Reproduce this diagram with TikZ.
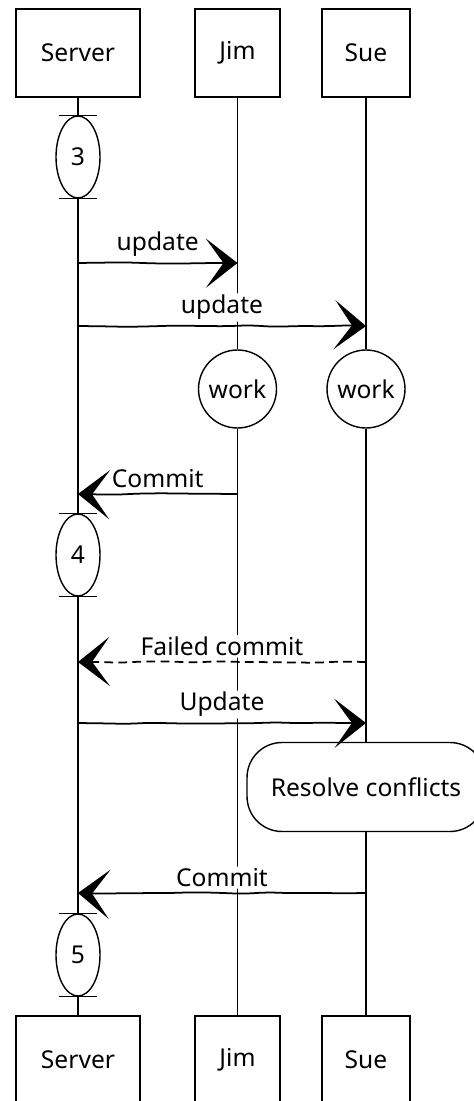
\documentclass[tikz,border=0pt]{standalone}
\usepackage{fontspec}
\setmainfont{Noto Sans}
\usetikzlibrary{shapes.geometric, arrows.meta, decorations.pathmorphing}

\begin{document}
\begin{tikzpicture}[x=0.02cm, y=-0.02cm,
    font=\fontsize{14}{16}\selectfont,
    sketch/.style={decorate, decoration={random steps, segment length=14pt, amplitude=0.5pt},
                   rounded corners=5pt},
    actor/.style={draw, line width=1pt, minimum height=1.76cm, fill=white},
    phase/.style={draw, ellipse, line width=0.8pt, minimum width=0.88cm,
                  minimum height=1.64cm, inner sep=0pt, fill=white},
    task/.style={draw, circle, line width=0.8pt, minimum size=1.56cm, inner sep=0pt, fill=white},
    life/.style={line width=0.8pt},
    msg/.style={sketch, line width=1pt, -{Stealth[length=18pt, width=28pt, inset=10pt]}},
    msglbl/.style={fill=white, inner sep=1pt, above=2pt}
]
\path[use as bounding box, fill=white] (0,0) rectangle (473,1101);
\pgfmathsetseed{3}

% participants, top and bottom
\node[actor, minimum width=2.48cm] (srvT) at (78,53)    {Server};
\node[actor, minimum width=1.70cm] (jimT) at (237.5,53) {Jim};
\node[actor, minimum width=1.76cm] (sueT) at (366,53)   {Sue};
\node[actor, minimum width=2.48cm] (srvB) at (78,1060)    {Server};
\node[actor, minimum width=1.70cm] (jimB) at (237.5,1060) {Jim};
\node[actor, minimum width=1.76cm] (sueB) at (366,1060)   {Sue};

% server versions
\node[phase] (p3) at (78,157) {3};
\node[phase] (p4) at (78,555) {4};
\node[phase] (p5) at (78,955) {5};

% local activity
\node[task] (jimW) at (237.5,389) {work};
\node[task] (sueW) at (366,389)   {work};
\node[draw, rounded corners=0.7cm, line width=0.8pt, minimum width=4.76cm,
      minimum height=1.78cm, fill=white] (sueR) at (366,787) {Resolve conflicts};

% lifelines
\draw[life] (srvT) -- (p3) (p3) -- (p4) (p4) -- (p5) (p5) -- (srvB);
\draw[life] (jimT) -- (jimW) (jimW) -- (jimB);
\draw[life] (sueT) -- (sueW) (sueW) -- (sueR) (sueR) -- (sueB);
\foreach \p in {p3,p4,p5}
  \draw[life] (\p.north) +(-19,0) -- +(19,0) (\p.south) +(-19,0) -- +(19,0);

% message rows
\coordinate (r1) at (0,263);
\coordinate (r2) at (0,326);
\coordinate (r3) at (0,494);
\coordinate (r4) at (0,662);
\coordinate (r5) at (0,723);
\coordinate (r6) at (0,893);

\draw[msg] (srvT |- r1) -- node[msglbl] {update} (jimT |- r1);
\draw[msg] (srvT |- r2) -- node[msglbl] {update} (sueT |- r2);
\draw[msg] (jimT |- r3) -- node[msglbl] {Commit} (srvT |- r3);
\draw[msg, dash pattern=on 5pt off 3pt] (sueT |- r4) -- node[msglbl] {Failed commit} (srvT |- r4);
\draw[msg] (srvT |- r5) -- node[msglbl] {Update} (sueT |- r5);
\draw[msg] (sueT |- r6) -- node[msglbl] {Commit} (srvT |- r6);
\end{tikzpicture}
\end{document}
